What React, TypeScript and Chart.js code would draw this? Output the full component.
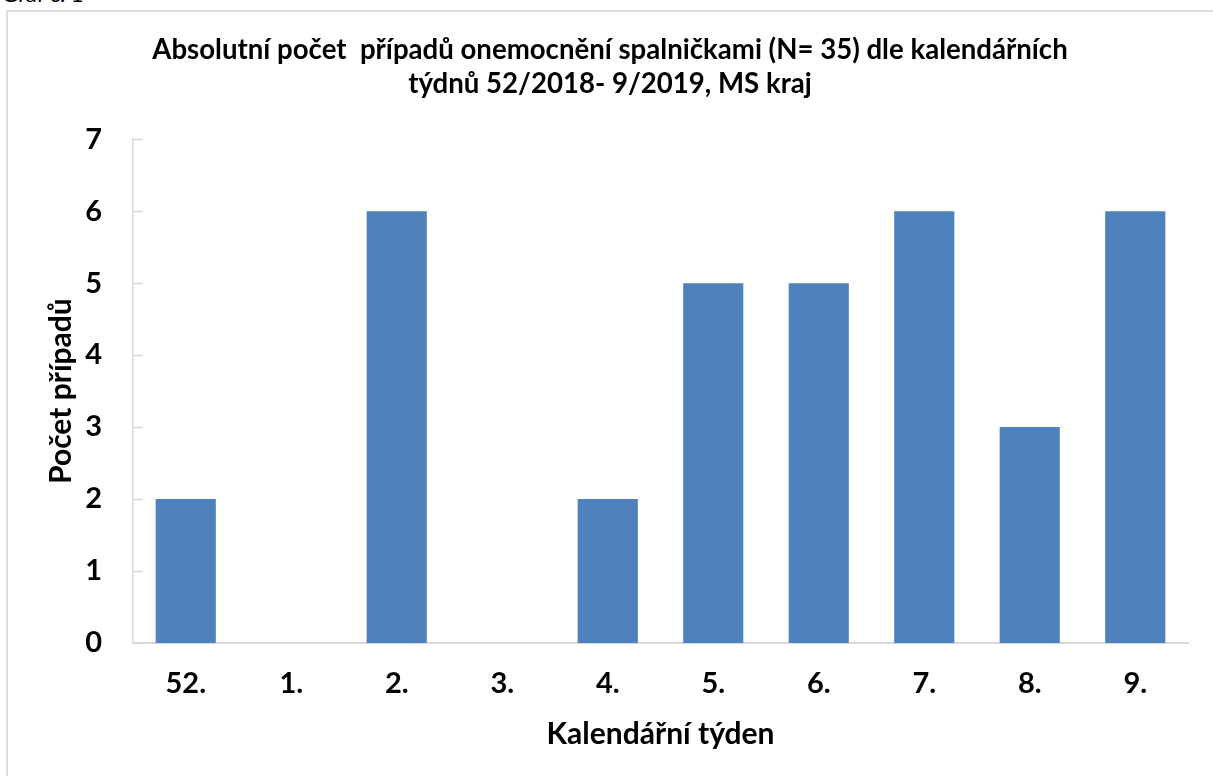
import React, { useEffect, useRef } from "react";
import { Chart, registerables } from "chart.js";

Chart.register(...registerables);

const categories = ["52.", "1.", "2.", "3.", "4.", "5.", "6.", "7.", "8.", "9."];
const cases = [2, 0, 6, 0, 2, 5, 5, 6, 3, 6];
const yTicks = [0, 1, 2, 3, 4, 5, 6, 7];
const titleLines = [
  "Absolutní počet  případů onemocnění spalničkami (N= 35) dle kalendářních",
  "týdnů 52/2018- 9/2019, MS kraj",
];
const xTitle = "Kalendářní týden";
const yTitle = "Počet případů";
const caption = "Graf č. 1";

const FONT = "Lato, 'Open Sans', sans-serif";
const AXIS_COLOR = "#d9d9d9";
const BAR_COLOR = "#4f81bd";

const innerTicks = {
  id: "innerTicks",
  afterDraw(chart: any) {
    const ctx = chart.ctx;
    const y = chart.scales.y;
    const left = chart.chartArea.left;
    ctx.save();
    ctx.strokeStyle = AXIS_COLOR;
    ctx.lineWidth = 1.5;
    y.ticks.forEach((t: any) => {
      const py = Math.round(y.getPixelForValue(t.value)) + 0.5;
      ctx.beginPath();
      ctx.moveTo(left, py);
      ctx.lineTo(left + 10, py);
      ctx.stroke();
    });
    ctx.restore();
  },
};

export default function App() {
  const ref = useRef<HTMLCanvasElement>(null);

  useEffect(() => {
    if (!ref.current) return;
    const chart = new Chart(ref.current, {
      type: "bar",
      data: {
        labels: categories,
        datasets: [
          {
            data: cases,
            backgroundColor: BAR_COLOR,
            borderWidth: 0,
            categoryPercentage: 1,
            barPercentage: 0.57,
          },
        ],
      },
      options: {
        responsive: false,
        animation: false,
        layout: { padding: { left: 32, right: 25, top: 0, bottom: 0 } },
        plugins: {
          legend: { display: false },
          tooltip: { enabled: false },
          title: {
            display: true,
            text: titleLines,
            color: "#000",
            font: { family: FONT, size: 27.6, weight: "bold", lineHeight: 1.2 },
            padding: { top: 34, bottom: 39 },
          },
        },
        scales: {
          x: {
            grid: { display: false, drawTicks: false },
            border: { display: true, color: AXIS_COLOR, width: 2 },
            ticks: {
              color: "#000",
              font: { family: FONT, size: 29, weight: "bold" },
              padding: 23,
              maxRotation: 0,
            },
            title: {
              display: true,
              text: xTitle,
              color: "#000",
              font: { family: FONT, size: 30, weight: "bold" },
              padding: { top: 0, bottom: 24 },
            },
            afterFit(scale: any) {
              scale.height = 133;
            },
          },
          y: {
            min: 0,
            max: 7,
            grid: { display: false, drawTicks: false },
            border: { display: true, color: AXIS_COLOR, width: 1.5 },
            ticks: {
              stepSize: 1,
              color: "#000",
              font: { family: FONT, size: 29, weight: "bold" },
              padding: 31,
              callback: (v: any) => (yTicks.includes(Number(v)) ? String(v) : ""),
            },
            title: {
              display: true,
              text: yTitle,
              color: "#000",
              font: { family: FONT, size: 30, weight: "bold" },
              padding: { top: 11, bottom: 0 },
            },
            afterFit(scale: any) {
              scale.width = 101;
            },
          },
        },
      },
      plugins: [innerTicks],
    });
    return () => chart.destroy();
  }, []);

  return (
    <div
      style={{
        position: "fixed",
        left: 0,
        top: 0,
        width: 1213,
        height: 776,
        overflow: "hidden",
        background: "#fff",
      }}
    >
      <div
        style={{
          position: "absolute",
          left: 2,
          top: -17,
          fontFamily: FONT,
          fontSize: 22,
          lineHeight: "22px",
          color: "#000",
          whiteSpace: "nowrap",
        }}
      >
        {caption}
      </div>
      <div
        style={{
          position: "absolute",
          left: 6,
          top: 10,
          width: 1300,
          height: 900,
          border: "2px solid #dcdcdc",
          boxSizing: "border-box",
        }}
      />
      <canvas
        ref={ref}
        width={1213}
        height={776}
        style={{ position: "absolute", left: 0, top: 0, width: 1213, height: 776 }}
      />
    </div>
  );
}
